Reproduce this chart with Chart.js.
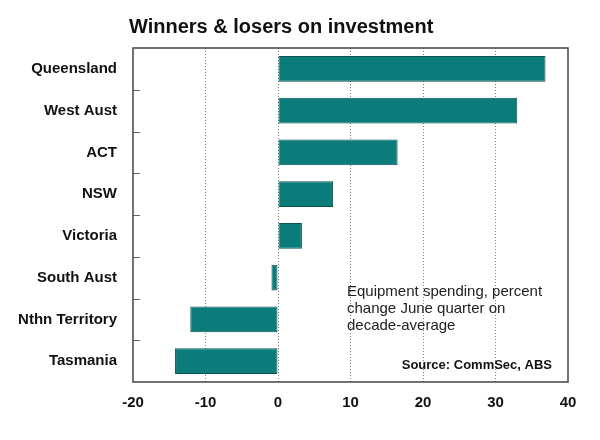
<!DOCTYPE html>
<html>
<head>
<meta charset="utf-8">
<script src="https://cdn.jsdelivr.net/npm/chart.js@4"></script>
<style>
  body { margin: 0; background: #fff; }
  canvas { display: block; }
</style>
</head>
<body>
<canvas id="chart" width="600" height="440"></canvas>
<script>
const regions = ['Queensland', 'West Aust', 'ACT', 'NSW', 'Victoria', 'South Aust', 'Nthn Territory', 'Tasmania'];
const changePct = [36.9, 33.0, 16.5, 7.6, 3.3, -0.9, -12.1, -14.2];
const xTicks = [-20, -10, 0, 10, 20, 30, 40];
const noteLines = ['Equipment spending, percent', 'change June quarter on', 'decade-average'];
const sourceText = 'Source: CommSec, ABS';
const titleText = 'Winners & losers on investment';

const FONT = '"Liberation Sans", Arial, sans-serif';

// title, note text, plot box and small category ticks
const decorations = {
  id: 'decorations',
  afterDraw(chart) {
    const ctx = chart.ctx;
    const area = chart.chartArea;
    const y = chart.scales.y;
    ctx.save();

    ctx.fillStyle = '#111';
    ctx.font = 'bold 20px ' + FONT;
    ctx.textAlign = 'left';
    ctx.textBaseline = 'alphabetic';
    ctx.fillText(titleText, 129, 33);

    ctx.fillStyle = '#222';
    ctx.font = '15px ' + FONT;
    noteLines.forEach((line, i) => ctx.fillText(line, 347, 296 + i * 17));

    ctx.fillStyle = '#111';
    ctx.font = 'bold 13px ' + FONT;
    ctx.textAlign = 'right';
    ctx.fillText(sourceText, 552, 369);

    // small ticks between categories
    ctx.strokeStyle = '#666';
    ctx.lineWidth = 1;
    ctx.beginPath();
    for (let i = 0; i < regions.length - 1; i++) {
      const yy = Math.round((y.getPixelForValue(i) + y.getPixelForValue(i + 1)) / 2) + 0.5;
      ctx.moveTo(area.left, yy);
      ctx.lineTo(area.left + 7, yy);
    }
    ctx.stroke();

    ctx.strokeStyle = '#444';
    ctx.lineWidth = 1.5;
    ctx.strokeRect(area.left, area.top, area.right - area.left, area.bottom - area.top);
    ctx.restore();
  }
};

new Chart(document.getElementById('chart'), {
  type: 'bar',
  data: {
    labels: regions,
    datasets: [{
      data: changePct,
      backgroundColor: '#0b7c79',
      borderColor: '#0a5654',
      borderWidth: 1,
      borderSkipped: false,
      categoryPercentage: 1,
      barPercentage: 0.62
    }]
  },
  options: {
    indexAxis: 'y',
    responsive: false,
    animation: false,
    layout: { padding: { top: 48, right: 32, left: 0, bottom: 0 } },
    plugins: {
      legend: { display: false },
      tooltip: { enabled: false }
    },
    scales: {
      x: {
        min: -20,
        max: 40,
        afterBuildTicks: axis => { axis.ticks = xTicks.map(v => ({ value: v })); },
        afterFit: axis => { axis.height = 58; },
        grid: {
          color: c => (c.tick && (c.tick.value === -20 || c.tick.value === 40)) ? 'rgba(0,0,0,0)' : '#7d7d7d',
          lineWidth: 1,
          drawTicks: false
        },
        border: { display: false, dash: [1, 2] },
        ticks: {
          padding: 12,
          color: '#111',
          font: { family: FONT, size: 15, weight: 'bold' }
        }
      },
      y: {
        afterFit: axis => { axis.width = 133; },
        grid: { display: false, drawTicks: false },
        border: { display: false },
        ticks: {
          padding: 16,
          color: '#111',
          font: { family: FONT, size: 15, weight: 'bold' }
        }
      }
    }
  },
  plugins: [decorations]
});
</script>
</body>
</html>
